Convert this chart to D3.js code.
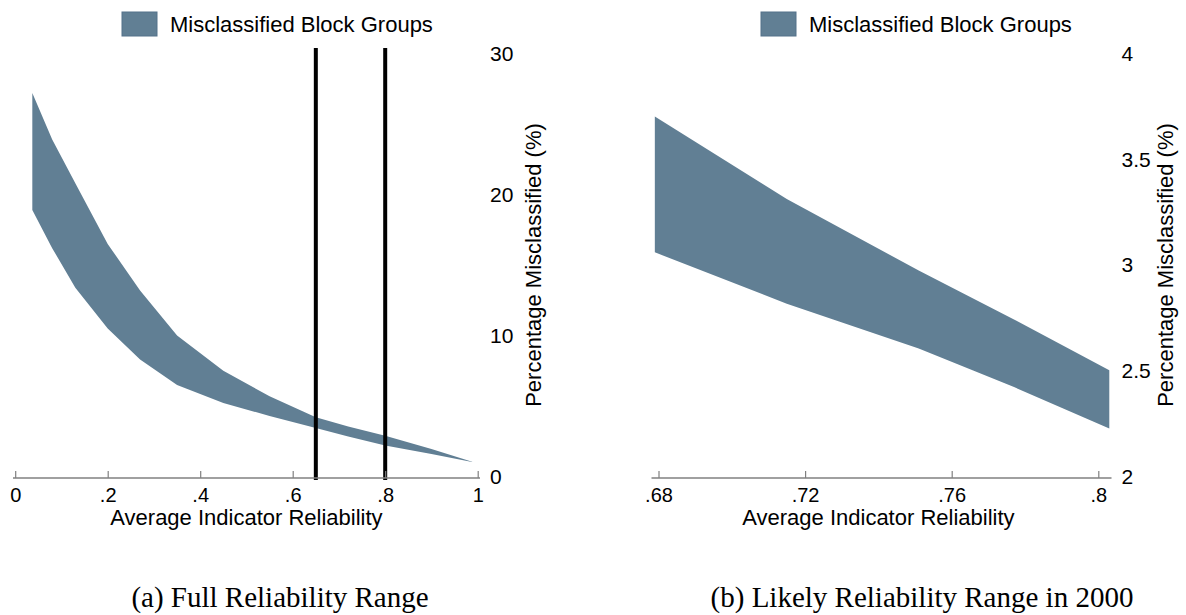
<!DOCTYPE html>
<html>
<head>
<meta charset="utf-8">
<script src="https://cdn.jsdelivr.net/npm/d3@7/dist/d3.min.js"></script>
<style>
  body { margin: 0; background: #fff; }
  svg text { font-family: "Liberation Sans", Arial, sans-serif; fill: #000; }
  .caption { font-family: "Liberation Serif", "Times New Roman", serif; }
</style>
</head>
<body>
<div id="chart"></div>
<script>
// panel (a): full reliability range
var relA = [0.037, 0.08, 0.13, 0.2, 0.27, 0.35, 0.45, 0.55, 0.65, 0.72, 0.8, 0.9, 0.988];
var upperA = [27.3, 24.0, 20.9, 16.6, 13.3, 10.1, 7.6, 5.8, 4.3, 3.65, 3.0, 2.05, 1.16];
var lowerA = [19.0, 16.3, 13.5, 10.6, 8.4, 6.6, 5.32, 4.4, 3.55, 2.95, 2.3, 1.7, 1.14];
var xTicksA = [0, 0.2, 0.4, 0.6, 0.8, 1];
var xLabelsA = ["0", ".2", ".4", ".6", ".8", "1"];
var yTicksA = [0, 10, 20, 30];
var refLines = [0.65, 0.8];

// panel (b): likely reliability range in 2000
var relB = [0.679, 0.715, 0.751, 0.777, 0.803];
var upperB = [3.709, 3.319, 2.981, 2.75, 2.509];
var lowerB = [3.067, 2.824, 2.612, 2.43, 2.234];
var xTicksB = [0.68, 0.72, 0.76, 0.8];
var xLabelsB = [".68", ".72", ".76", ".8"];
var yTicksB = [2, 2.5, 3, 3.5, 4];
var yLabelsB = ["2", "2.5", "3", "3.5", "4"];

var legendLabel = "Misclassified Block Groups";
var xTitle = "Average Indicator Reliability";
var yTitle = "Percentage Misclassified (%)";
var bandColor = "#617f94";
var axisColor = "#808080";

var width = 1186, height = 615;

var svg = d3.select("#chart")
  .append("svg")
  .attr("width", width)
  .attr("height", height);

function panel(opt) {
  var g = svg.append("g");

  var x = d3.scaleLinear().domain(opt.xDomain).range(opt.xRange);
  var y = d3.scaleLinear().domain(opt.yDomain).range([478, 55]);

  var rows = opt.rel.map(function(r, i) {
    return { r: r, hi: opt.upper[i], lo: opt.lower[i] };
  });

  var area = d3.area()
    .x(function(d) { return x(d.r); })
    .y0(function(d) { return y(d.lo); })
    .y1(function(d) { return y(d.hi); });

  g.append("path")
    .datum(rows)
    .attr("d", area)
    .attr("fill", bandColor);

  // vertical reference lines
  g.selectAll(".ref")
    .data(opt.refs || [])
    .enter().append("line")
    .attr("x1", function(d) { return x(d); })
    .attr("x2", function(d) { return x(d); })
    .attr("y1", 48)
    .attr("y2", 480)
    .attr("stroke", "#000")
    .attr("stroke-width", 4);

  // x axis line across the plot region
  g.append("line")
    .attr("x1", opt.plotL).attr("x2", opt.plotR)
    .attr("y1", 478).attr("y2", 478)
    .attr("stroke", axisColor)
    .attr("stroke-width", 1.5);

  var xAxis = g.append("g")
    .attr("transform", "translate(0,478)")
    .call(d3.axisBottom(x)
      .tickValues(opt.xTicks)
      .tickFormat(function(d, i) { return opt.xLabels[i]; })
      .tickSize(-7)
      .tickPadding(10));
  xAxis.select(".domain").remove();
  xAxis.selectAll(".tick line").attr("stroke", axisColor).attr("stroke-width", 1.2);
  xAxis.selectAll("text").attr("font-size", 20).attr("font-family", null);

  var yAxis = g.append("g")
    .attr("transform", "translate(" + opt.plotR + ",0)")
    .call(d3.axisRight(y)
      .tickValues(opt.yTicks)
      .tickFormat(function(d, i) { return opt.yLabels ? opt.yLabels[i] : d; })
      .tickSize(0)
      .tickPadding(10));
  yAxis.select(".domain").remove();
  yAxis.selectAll("text").attr("font-size", 21).attr("font-family", null).attr("dy", "0.25em");

  g.append("text")
    .attr("x", (opt.xRange[0] + opt.xRange[1]) / 2)
    .attr("y", 525)
    .attr("text-anchor", "middle")
    .attr("font-size", 22)
    .text(xTitle);

  g.append("text")
    .attr("transform", "translate(" + (opt.plotR + 61) + ",265) rotate(-90)")
    .attr("text-anchor", "middle")
    .attr("font-size", 22)
    .text(yTitle);

  // legend
  g.append("rect")
    .attr("x", opt.legendX).attr("y", 12)
    .attr("width", 35).attr("height", 24)
    .attr("fill", bandColor)
    .attr("stroke", "#55728a")
    .attr("stroke-width", 1);
  g.append("text")
    .attr("x", opt.legendX + 48)
    .attr("y", 32)
    .attr("font-size", 22)
    .text(legendLabel);

  g.append("text")
    .attr("class", "caption")
    .attr("x", opt.captionX)
    .attr("y", 607)
    .attr("text-anchor", "middle")
    .attr("font-size", 29)
    .text(opt.caption);
}

panel({
  rel: relA, upper: upperA, lower: lowerA,
  xDomain: [0, 1], xRange: [15.2, 477.7],
  yDomain: [0, 30],
  xTicks: xTicksA, xLabels: xLabelsA, yTicks: yTicksA,
  refs: refLines,
  plotL: 13, plotR: 480,
  legendX: 122,
  captionX: 280,
  caption: "(a) Full Reliability Range"
});

panel({
  rel: relB, upper: upperB, lower: lowerB,
  xDomain: [0.68, 0.8], xRange: [658.5, 1098.3],
  yDomain: [2, 4],
  xTicks: xTicksB, xLabels: xLabelsB, yTicks: yTicksB, yLabels: yLabelsB,
  plotL: 651.5, plotR: 1111.5,
  legendX: 761,
  captionX: 922,
  caption: "(b) Likely Reliability Range in 2000"
});
</script>
</body>
</html>
